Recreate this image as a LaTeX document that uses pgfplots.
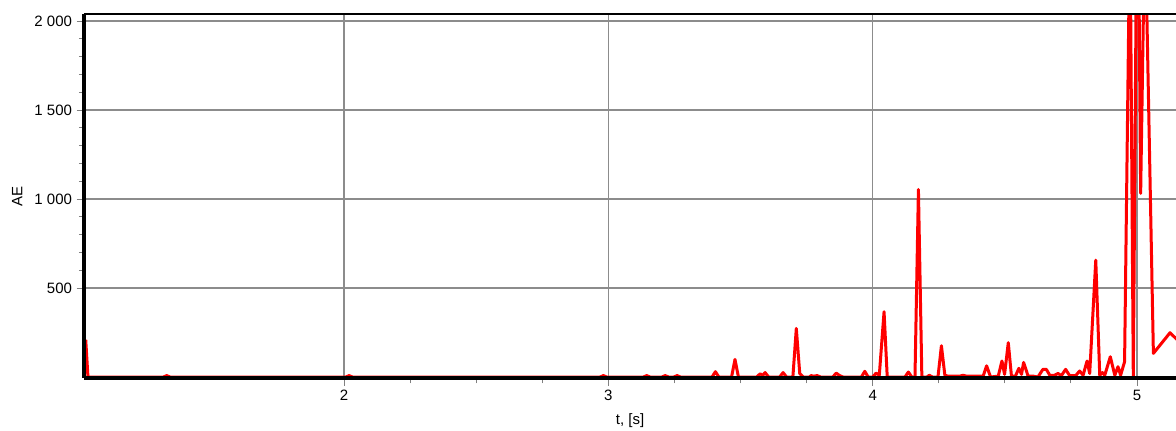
\documentclass[border=0pt]{standalone}
\usepackage{fontspec}
\setmainfont{Liberation Sans}
\usepackage{pgfplots}
\pgfplotsset{compat=1.18}
\begin{document}
\begin{tikzpicture}
\begin{axis}[
 scale only axis, width=819pt, height=273.2pt,
 xmin=1.016, xmax=5.1476, ymin=-7, ymax=2040,
 xtick={2,3,4,5}, xticklabels={2,3,4,5},
 ytick={500,1000,1500,2000}, yticklabels={500,1 000,1 500,2 000},
 minor x tick num=3, minor y tick num=4,
 xtick pos=bottom, ytick pos=left,
 tick align=outside, major tick length=5.5pt, minor tick length=3.8pt,
 tick style={color=gray, line width=0.75pt},
 xmajorgrids=true, ymajorgrids=true,
 grid style={color=gray!90, line width=1pt},
 axis line style={draw=none},
 clip mode=individual,
 tick label style={font=\fontsize{11.25}{13}\selectfont},
 xlabel={t, [s]}, ylabel={AE},
 every axis x label/.style={at={(rel axis cs:0.5,0)}, anchor=center, yshift=-31.5pt, font=\fontsize{11.25}{13}\selectfont},
 every axis y label/.style={at={(rel axis cs:0,0.5)}, anchor=center, xshift=-50pt, rotate=90, font=\fontsize{11.25}{13}\selectfont},
]
\addplot[red, line width=2.25pt, line join=round] table {
t v
1.0225 210
1.031 0
1.316 0
1.329 8
1.342 0
2.006 0
2.019 8
2.032 0
2.968 0
2.981 8
2.994 0
3.132 0
3.145 8
3.158 0
3.202 0
3.215 8
3.228 0
3.247 0
3.260 8
3.273 0
3.392 0
3.405 30
3.418 0
3.466 0
3.479 99
3.492 0
3.561 0
3.574 18
3.584 10
3.593 25
3.606 0
3.648 0
3.661 25
3.674 0
3.698 0
3.711 273
3.724 20
3.737 0
3.760 0
3.767 8
3.777 5
3.790 8
3.803 0
3.849 0
3.862 22
3.875 8
3.888 0
3.957 0
3.970 32
3.983 0
4.000 0
4.013 22
4.025 10
4.043 367
4.055 0
4.122 0
4.135 28
4.148 0
4.160 0
4.173 1054
4.186 0
4.205 0
4.214 10
4.226 0
4.247 0
4.260 176
4.273 10
4.285 5
4.300 5
4.330 5
4.342 10
4.355 5
4.380 5
4.418 5
4.431 63
4.446 0
4.475 5
4.489 90
4.499 15
4.513 193
4.525 5
4.540 5
4.553 49
4.563 15
4.571 82
4.588 5
4.607 5
4.625 0
4.644 43
4.657 43
4.670 10
4.688 10
4.701 20
4.714 8
4.730 43
4.745 8
4.768 8
4.783 34
4.796 10
4.811 90
4.821 20
4.844 657
4.859 10
4.869 25
4.878 10
4.899 114
4.916 10
4.928 58
4.938 10
4.953 86
4.9735 2600
4.986 0
5.002 3200
5.0138 1032
5.030 2600
5.062 133
5.125 249
5.155 205
};
\draw[line width=2.5pt] (rel axis cs:0,1) -- (rel axis cs:0,0);
\draw[line width=3pt] (rel axis cs:0,0) -- (rel axis cs:1,0);
\draw[line width=1.4pt] (rel axis cs:0,1) -- (rel axis cs:1,1);
\coordinate (ll) at (rel axis cs:0,0);
\end{axis}
\pgfresetboundingbox
\path (ll) ++(-63pt,-38.8pt) rectangle ++(882pt,322.5pt);
\end{tikzpicture}
\end{document}
